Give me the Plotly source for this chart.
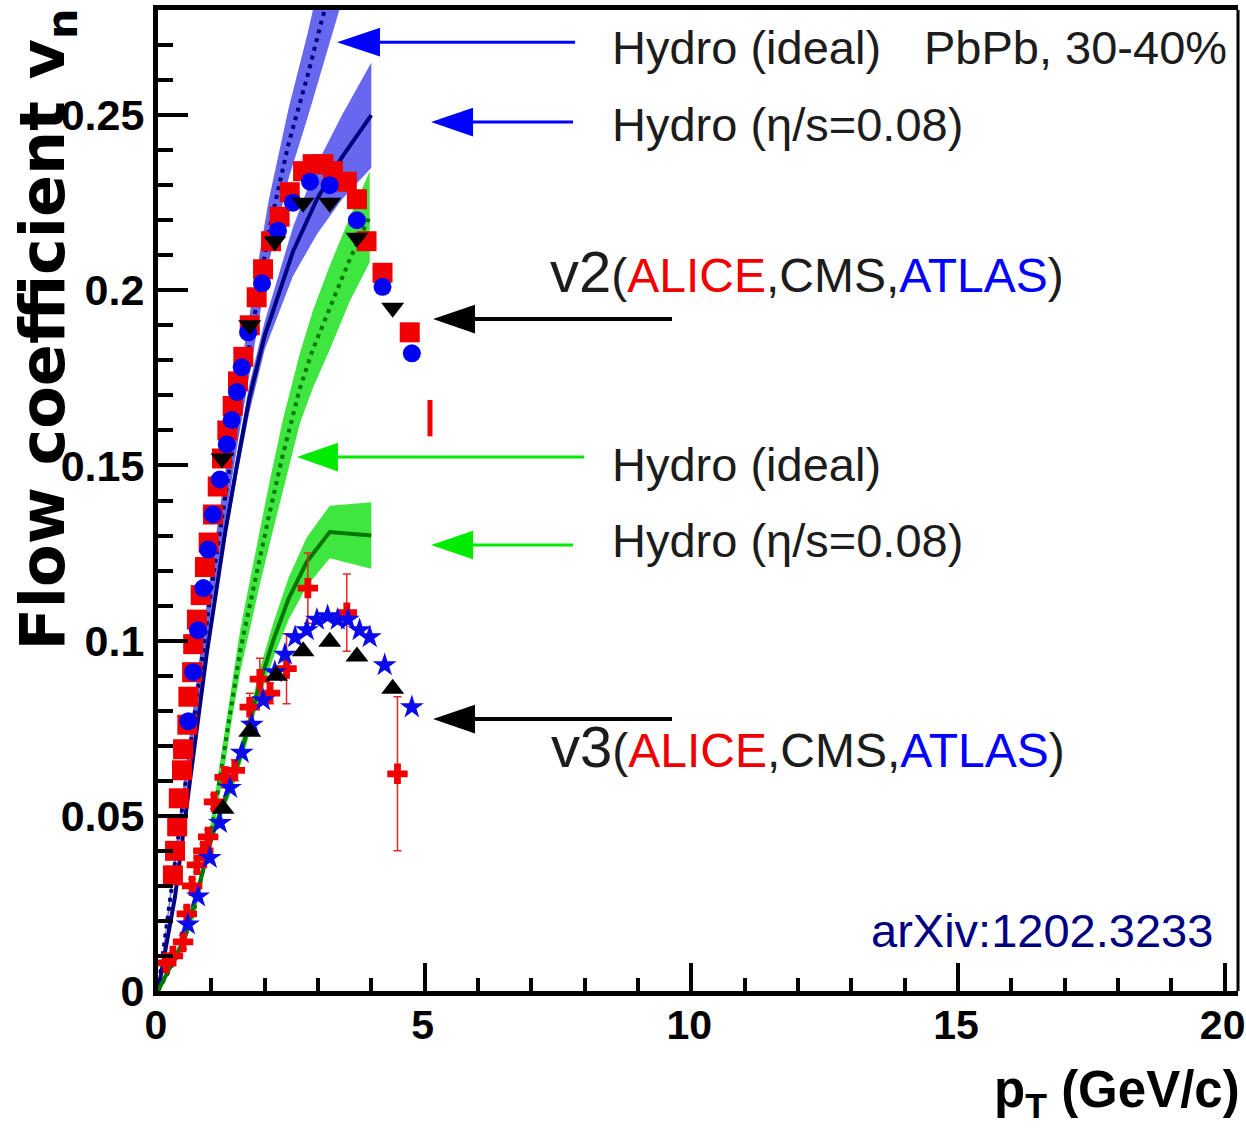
import plotly.graph_objects as go

# ---------------- data ----------------
# Hydro v2, ideal (blue dotted, band)
hid2_pt = [0, 0.5, 1.0, 1.5, 2.0, 2.08, 2.45, 2.8, 3.07, 3.4]
hid2_v = [0, 0.058, 0.115, 0.165, 0.210, 0.217, 0.242, 0.261, 0.277, 0.295]
hid2_e = [0, 0.004, 0.006, 0.008, 0.009, 0.009, 0.010, 0.012, 0.014, 0.015]

# Hydro v2, eta/s=0.08 (blue solid, band)
hvi2_pt = [0, 0.22, 0.32, 0.6, 0.92, 1.07, 1.26, 1.48, 1.71, 2.0, 2.53, 2.98, 3.45, 4.0]
hvi2_v = [0, 0.018, 0.027, 0.060, 0.097, 0.112, 0.131, 0.150, 0.169, 0.187, 0.211, 0.226, 0.238, 0.250]
hvi2_e = [0, 0.001, 0.001, 0.002, 0.002, 0.003, 0.003, 0.003, 0.004, 0.004, 0.007, 0.010, 0.012, 0.015]

# Hydro v3, ideal (green dotted, band)
hid3_pt = [0, 0.4, 0.66, 0.97, 1.1, 1.25, 1.39, 1.54, 1.72, 1.91, 2.1, 2.34, 2.66, 2.9, 3.22, 3.6, 3.97]
hid3_v = [0, 0.011, 0.022, 0.043, 0.055, 0.069, 0.083, 0.097, 0.110, 0.124, 0.137, 0.153, 0.172, 0.183, 0.195, 0.209, 0.221]
hid3_e = [0, 0.001, 0.002, 0.003, 0.004, 0.005, 0.005, 0.006, 0.007, 0.008, 0.009, 0.010, 0.010, 0.011, 0.012, 0.012, 0.013]

# Hydro v3, eta/s=0.08 (green solid, band)
hvi3_pt = [0, 0.5, 1.03, 1.26, 1.48, 1.69, 1.91, 2.16, 2.45, 2.79, 3.22, 4.0]
hvi3_v = [0, 0.015, 0.045, 0.0545, 0.064, 0.075, 0.088, 0.100, 0.112, 0.1225, 0.131, 0.130]
hvi3_e = [0, 0.001, 0.002, 0.002, 0.003, 0.003, 0.004, 0.005, 0.006, 0.007, 0.0075, 0.0095]

# v2 data
alice_v2_pt = [0.28, 0.32, 0.36, 0.39, 0.45, 0.47, 0.55, 0.57, 0.64, 0.66, 0.73, 0.80, 0.88, 0.95,
               1.03, 1.12, 1.2, 1.3, 1.4, 1.5, 1.6, 1.72, 1.85, 1.97, 2.12, 2.28, 2.47, 2.72,
               2.9, 3.1, 3.28, 3.54, 3.73, 3.91, 4.21, 4.72]
alice_v2 = [0.033, 0.040, 0.047, 0.055, 0.063, 0.069, 0.076, 0.084, 0.091, 0.099, 0.106, 0.113,
            0.121, 0.128, 0.136, 0.144, 0.152, 0.160, 0.167, 0.174, 0.181, 0.190, 0.198, 0.206,
            0.214, 0.221, 0.228, 0.234, 0.236, 0.236, 0.234, 0.231, 0.226, 0.214, 0.205, 0.188]
alice_v2_cut_pt = [5.1]
alice_v2_cut = [0.1635]

atlas_v2_pt = [0.57, 0.66, 0.75, 0.85, 0.94, 1.03, 1.16, 1.29, 1.38, 1.48, 1.57, 1.69, 1.95,
               2.25, 2.53, 2.85, 3.22, 3.73, 4.21, 4.76]
atlas_v2 = [0.077, 0.091, 0.103, 0.115, 0.126, 0.136, 0.146, 0.156, 0.163, 0.171, 0.178, 0.188,
            0.202, 0.217, 0.225, 0.231, 0.230, 0.220, 0.201, 0.182]

cms_v2_pt = [1.2, 1.72, 2.19, 2.72, 3.22, 3.73, 4.4]
cms_v2 = [0.152, 0.190, 0.214, 0.225, 0.225, 0.215, 0.195]

# v3 data
alice_v3_pt = [0.15, 0.28, 0.47, 0.54, 0.64, 0.73, 0.85, 0.94, 1.05, 1.25, 1.44, 1.72, 1.91,
               2.1, 2.41, 2.81, 3.54, 4.49]
alice_v3 = [0.008, 0.010, 0.014, 0.022, 0.030, 0.036, 0.040, 0.044, 0.054, 0.061, 0.063, 0.081,
            0.089, 0.085, 0.092, 0.115, 0.108, 0.062]
alice_v3_err = [0.001, 0.001, 0.002, 0.002, 0.002, 0.002, 0.002, 0.002, 0.002, 0.003, 0.003,
                0.004, 0.006, 0.003, 0.010, 0.010, 0.011, 0.022]

atlas_v3_pt = [0.56, 0.75, 0.97, 1.16, 1.35, 1.57, 1.76, 1.97, 2.19, 2.38, 2.57, 2.79, 2.98,
               3.18, 3.37, 3.56, 3.78, 3.97, 4.25, 4.76]
atlas_v3 = [0.019, 0.027, 0.038, 0.048, 0.058, 0.068, 0.076, 0.083, 0.091, 0.096, 0.101, 0.103,
            0.106, 0.107, 0.106, 0.106, 0.103, 0.101, 0.093, 0.081]

cms_v3_pt = [1.22, 1.72, 2.22, 2.72, 3.22, 3.73, 4.4]
cms_v3 = [0.052, 0.074, 0.090, 0.097, 0.0997, 0.0955, 0.0863]

x_ticks = [0, 5, 10, 15, 20]

# ---------------- styles ----------------
BLUE_BAND = "rgb(104,104,238)"
GREEN_BAND = "rgb(64,230,64)"
NAVY = "rgb(0,0,130)"
DKGREEN = "rgb(0,120,0)"
TICK_FONT = "Liberation Sans, Arial"
TXT_FONT = "Liberation Sans, Arial"

fig = go.Figure()


def add_band(pt, v, e, color, name):
    xs = list(pt) + list(pt)[::-1]
    ys = [a + b for a, b in zip(v, e)] + [a - b for a, b in zip(v, e)][::-1]
    fig.add_trace(go.Scatter(x=xs, y=ys, fill="toself", fillcolor=color, mode="lines",
                             line=dict(width=0), hoverinfo="skip", name=name))


add_band(hid2_pt, hid2_v, hid2_e, BLUE_BAND, "ideal v2 band")
add_band(hvi2_pt, hvi2_v, hvi2_e, BLUE_BAND, "visc v2 band")
add_band(hid3_pt, hid3_v, hid3_e, GREEN_BAND, "ideal v3 band")
add_band(hvi3_pt, hvi3_v, hvi3_e, GREEN_BAND, "visc v3 band")

fig.add_trace(go.Scatter(x=hid2_pt, y=hid2_v, mode="lines",
                         line=dict(color=NAVY, width=4, dash="4px,5px"), name="Hydro ideal v2"))
fig.add_trace(go.Scatter(x=hvi2_pt, y=hvi2_v, mode="lines",
                         line=dict(color=NAVY, width=4), name="Hydro visc v2"))
fig.add_trace(go.Scatter(x=hid3_pt, y=hid3_v, mode="lines",
                         line=dict(color=DKGREEN, width=4, dash="4px,5px"), name="Hydro ideal v3"))
fig.add_trace(go.Scatter(x=hvi3_pt, y=hvi3_v, mode="lines",
                         line=dict(color=DKGREEN, width=4), name="Hydro visc v3"))

# v2 data
fig.add_trace(go.Scatter(x=alice_v2_pt, y=alice_v2, mode="markers", name="ALICE v2",
                         marker=dict(symbol="square", size=20, color="rgb(240,0,0)")))
fig.add_trace(go.Scatter(x=alice_v2_cut_pt, y=alice_v2_cut, mode="markers", name="ALICE v2 (cut)",
                         marker=dict(symbol="line-ns", size=26,
                                     line=dict(color="rgb(240,0,0)", width=5))))
fig.add_trace(go.Scatter(x=atlas_v2_pt, y=atlas_v2, mode="markers", name="ATLAS v2",
                         marker=dict(symbol="circle", size=18, color="rgb(0,0,245)")))
fig.add_trace(go.Scatter(x=cms_v2_pt, y=cms_v2, mode="markers", name="CMS v2",
                         marker=dict(symbol="triangle-down", size=20, color="black")))

# v3 data
fig.add_trace(go.Scatter(x=alice_v3_pt, y=alice_v3, mode="markers", name="ALICE v3",
                         error_y=dict(type="data", array=alice_v3_err, color="rgb(225,40,40)",
                                      thickness=1.5, width=4),
                         marker=dict(symbol="cross", size=17, color="rgb(240,0,0)")))
fig.add_trace(go.Scatter(x=atlas_v3_pt, y=atlas_v3, mode="markers", name="ATLAS v3",
                         marker=dict(symbol="star", size=18, color="rgb(10,10,235)")))
fig.add_trace(go.Scatter(x=cms_v3_pt, y=cms_v3, mode="markers", name="CMS v3",
                         marker=dict(symbol="triangle-up", size=20, color="black")))

# ---------------- arrows (decoration, in axis units) ----------------
arrows = [
    # y, tip, base, end, color, width
    (0.2708, 3.357, 4.163, 7.819, "rgb(0,0,255)", 3),
    (0.2480, 5.119, 5.907, 7.782, "rgb(0,0,255)", 3),
    (0.1918, 5.157, 5.944, 9.638, "black", 4),
    (0.1524, 2.606, 3.375, 7.988, "rgb(0,235,0)", 3),
    (0.1273, 5.119, 5.907, 7.782, "rgb(0,235,0)", 3),
    (0.0776, 5.157, 5.944, 9.638, "black", 4),
]
shapes = []
h = 0.0041
for (yy, tip, base, end, col, w) in arrows:
    shapes.append(dict(type="line", xref="x", yref="y", x0=base - 0.1, x1=end, y0=yy, y1=yy,
                       line=dict(color=col, width=w)))
    shapes.append(dict(type="path", xref="x", yref="y",
                       path=f"M{tip},{yy} L{base},{yy + h} L{base},{yy - h} Z",
                       fillcolor=col, line=dict(color=col, width=0)))
# right frame line
shapes.append(dict(type="line", xref="paper", yref="paper", x0=1, x1=1, y0=0, y1=1,
                   line=dict(color="black", width=3)))

TXT = "#1c1c1c"
annots = [
    dict(x=8.475, y=0.2692, text="Hydro (ideal)"),
    dict(x=14.33, y=0.2692, text="PbPb, 30-40%"),
    dict(x=8.475, y=0.2472, text="Hydro (η/s=0.08)"),
    dict(x=8.475, y=0.1503, text="Hydro (ideal)"),
    dict(x=8.475, y=0.1286, text="Hydro (η/s=0.08)"),
]
ann_list = []
for a in annots:
    ann_list.append(dict(x=a["x"], y=a["y"], xref="x", yref="y", text=a["text"], showarrow=False,
                         xanchor="left", yanchor="middle",
                         font=dict(family=TXT_FONT, size=47, color=TXT)))
lab = ("<span style='font-size:58px'>v{n}</span>(<span style='color:rgb(240,0,0)'>ALICE</span>,"
       "CMS,<span style='color:rgb(0,0,255)'>ATLAS</span>)")
ann_list.append(dict(x=7.31, y=0.2055, xref="x", yref="y", text=lab.format(n=2), showarrow=False,
                     xanchor="left", yanchor="middle",
                     font=dict(family=TXT_FONT, size=48, color=TXT)))
ann_list.append(dict(x=7.33, y=0.0698, xref="x", yref="y", text=lab.format(n=3), showarrow=False,
                     xanchor="left", yanchor="middle",
                     font=dict(family=TXT_FONT, size=48, color=TXT)))
ann_list.append(dict(x=19.82, y=0.0172, xref="x", yref="y", text="arXiv:1202.3233",
                     showarrow=False, xanchor="right", yanchor="middle",
                     font=dict(family=TXT_FONT, size=47, color="rgb(0,0,128)")))
# axis titles
ann_list.append(dict(x=-0.103, y=0.674, xref="paper", yref="paper",
                     text="Flow coefficient v<sub>n</sub>", showarrow=False, textangle=-90,
                     xanchor="center", yanchor="middle",
                     font=dict(family="DejaVu Sans, Liberation Sans", size=62, color="black",
                               weight="bold")))
ann_list.append(dict(x=1.0, y=-0.104, xref="paper", yref="paper",
                     text="p<sub>T</sub> (GeV/c)", showarrow=False, xshift=4,
                     xanchor="right", yanchor="middle",
                     font=dict(family=TICK_FONT, size=51, color="black", weight="bold")))

fig.update_layout(
    width=1246, height=1139,
    margin=dict(l=158, r=8, t=10, b=148, autoexpand=False),
    paper_bgcolor="white", plot_bgcolor="white",
    showlegend=False,
    shapes=shapes,
    annotations=ann_list,
    xaxis=dict(range=[0, 20.25], tickvals=x_ticks, ticks="inside", ticklen=28, tickwidth=4,
               tickcolor="black", showline=True, linewidth=5, linecolor="black", mirror=True,
               showgrid=False, zeroline=False, ticklabeloverflow="allow", ticklabelstandoff=-6,
               ticklabelshift=-2, automargin=False,
               tickfont=dict(family=TICK_FONT, size=41, color="black", weight="bold"),
               minor=dict(dtick=1, tick0=0, ticks="inside", ticklen=13, tickwidth=4,
                          tickcolor="black", showgrid=False)),
    yaxis=dict(range=[0, 0.28], tick0=0, dtick=0.05, ticks="inside", ticklen=30, tickwidth=4,
               tickcolor="black", showline=True, linewidth=5, linecolor="black",
               showgrid=False, zeroline=False, ticklabeloverflow="allow", automargin=False,
               tickfont=dict(family=TICK_FONT, size=43, color="black", weight="bold"),
               minor=dict(dtick=0.01, tick0=0, ticks="inside", ticklen=15, tickwidth=4,
                          tickcolor="black", showgrid=False)),
)

fig.write_html("out.html")
